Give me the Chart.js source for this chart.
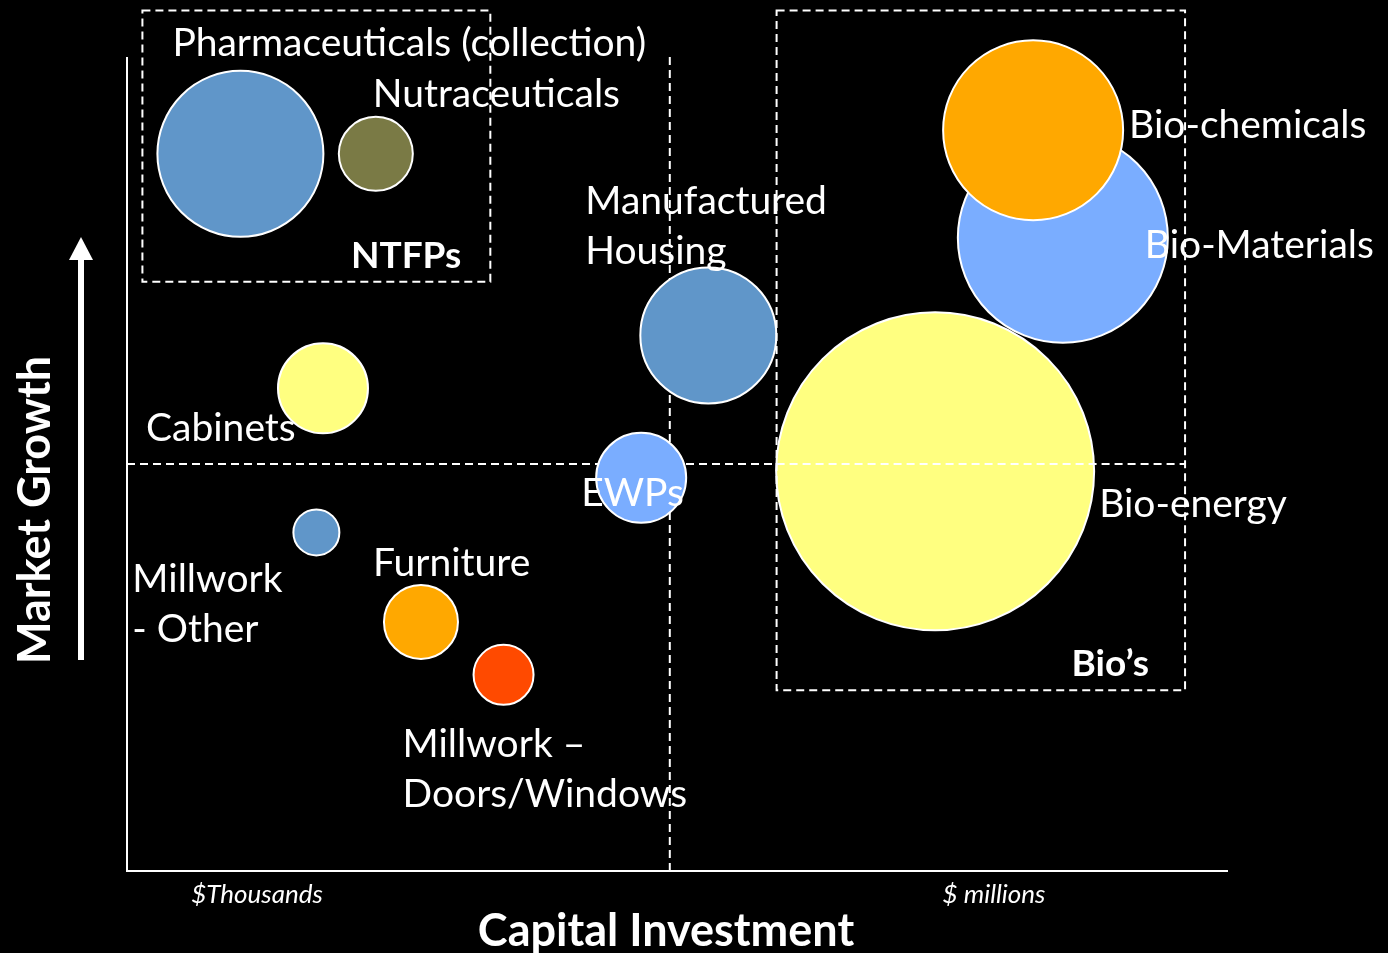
<!DOCTYPE html>
<html>
<head>
<meta charset="utf-8">
<script src="https://cdn.jsdelivr.net/npm/chart.js@4"></script>
<style>
  html, body { margin: 0; padding: 0; background: #000; }
  #wrap { width: 1388px; height: 953px; position: relative; }
</style>
</head>
<body>
<div id="wrap"><canvas id="chart"></canvas></div>
<script>
// bubble data (x: capital investment, y: market growth, both 0-10 units)
const categories = ["Bio-energy", "Bio-Materials", "Bio-chemicals", "Pharmaceuticals (collection)",
  "Nutraceuticals", "Manufactured Housing", "Cabinets", "EWPs", "Millwork - Other",
  "Furniture", "Millwork - Doors/Windows"];
const investment = [7.34, 8.50, 8.23, 1.03, 2.26, 5.28, 1.78, 4.67, 1.72, 2.67, 3.42];
const growth = [4.91, 7.78, 9.10, 8.81, 8.81, 6.58, 5.93, 4.83, 4.16, 3.06, 2.41];
const bubbleSize = [159, 105, 90, 83, 37, 68, 45, 45, 23, 37, 30];
const colors = ["#FFFF80", "#7AADFF", "#FFA800", "#6096C9", "#7A7A45", "#6096C9",
  "#FFFF80", "#7AADFF", "#6096C9", "#FFA800", "#FF4A00"];

// text shown next to each bubble
const labelLines = [["Bio-energy"], ["Bio-Materials"], ["Bio-chemicals"], ["Pharmaceuticals (collection)"],
  ["Nutraceuticals"], ["Manufactured", "Housing"], ["Cabinets"], ["EWPs"], ["Millwork", "- Other"],
  ["Furniture"], ["Millwork \u2013", "Doors/Windows"]];
// pixel offset of the label from the bubble centre
const labelOffset = [[164, 33], [82, 8], [96, -5], [-68, -110], [-3, -59], [-123, -134],
  [-177, 40], [-60, 16], [-184, 47], [-48, -58], [-101, 70]];

// divider lines and grouping boxes (data units)
const dividerX = 4.93;
const dividerY = 5.0;
const groupBoxes = [
  { name: "NTFPs", x0: 0.14, x1: 3.30, y0: 7.24, y1: 10.57 },
  { name: "Bio\u2019s", x0: 5.90, x1: 9.61, y0: 2.22, y1: 10.57 }
];

const FONT = "Lato, 'Open Sans', sans-serif";

const overlay = {
  id: "overlay",
  beforeDatasetsDraw(chart) {
    const { ctx, chartArea: a, scales: { x, y } } = chart;
    ctx.save();
    ctx.strokeStyle = "#fff";
    ctx.lineWidth = 2;
    ctx.setLineDash([8, 5]);
    const vx = x.getPixelForValue(dividerX);
    ctx.beginPath();
    ctx.moveTo(vx, a.top);
    ctx.lineTo(vx, a.bottom);
    const hy = y.getPixelForValue(dividerY);
    ctx.moveTo(a.left, hy);
    ctx.lineTo(x.getPixelForValue(groupBoxes[1].x0), hy);
    ctx.stroke();
    ctx.restore();
  },
  afterDatasetsDraw(chart) {
    const { ctx, chartArea: a, scales: { x, y } } = chart;
    ctx.save();
    ctx.fillStyle = "#fff";
    ctx.textBaseline = "middle";

    // bubble labels
    ctx.font = "39px " + FONT;
    ctx.textAlign = "left";
    categories.forEach((c, i) => {
      const px = x.getPixelForValue(investment[i]) + labelOffset[i][0];
      const py = y.getPixelForValue(growth[i]) + labelOffset[i][1];
      labelLines[i].forEach((t, k) => ctx.fillText(t, px, py + k * 50));
    });

    // dashed group boxes and the right half of the horizontal divider
    ctx.strokeStyle = "#fff";
    ctx.lineWidth = 2;
    ctx.setLineDash([8, 5]);
    groupBoxes.forEach(b => {
      const l = x.getPixelForValue(b.x0), r = x.getPixelForValue(b.x1);
      const t = y.getPixelForValue(b.y1), btm = y.getPixelForValue(b.y0);
      ctx.strokeRect(l, t, r - l, btm - t);
    });
    const hy = y.getPixelForValue(dividerY);
    ctx.beginPath();
    ctx.moveTo(x.getPixelForValue(groupBoxes[1].x0), hy);
    ctx.lineTo(x.getPixelForValue(groupBoxes[1].x1), hy);
    ctx.stroke();
    ctx.setLineDash([]);

    // group names
    ctx.font = "bold 37px " + FONT;
    ctx.textAlign = "right";
    groupBoxes.forEach((b, i) => {
      const r = x.getPixelForValue(b.x1) - (i === 0 ? 29 : 36);
      const btm = y.getPixelForValue(b.y0) - 26;
      ctx.fillText(b.name, r, btm);
    });

    // axes
    ctx.lineWidth = 2;
    ctx.beginPath();
    ctx.moveTo(a.left, a.top);
    ctx.lineTo(a.left, a.bottom);
    ctx.lineTo(a.right, a.bottom);
    ctx.stroke();

    // axis titles
    ctx.textAlign = "center";
    ctx.font = "italic 26px " + FONT;
    ctx.fillText("$Thousands", 257, a.bottom + 24);
    ctx.fillText("$ millions", 994, a.bottom + 24);
    ctx.font = "bold 45px " + FONT;
    ctx.fillText("Capital Investment", 666, a.bottom + 60);
    ctx.save();
    ctx.translate(35, 510);
    ctx.rotate(-Math.PI / 2);
    ctx.fillText("Market Growth", 0, 0);
    ctx.restore();

    // arrow
    ctx.fillRect(78, 258, 6, 402);
    ctx.beginPath();
    ctx.moveTo(81, 237);
    ctx.lineTo(69, 260);
    ctx.lineTo(93, 260);
    ctx.closePath();
    ctx.fill();
    ctx.restore();
  }
};

new Chart(document.getElementById("chart"), {
  type: "bubble",
  data: {
    datasets: [{
      data: categories.map((c, i) => ({ x: investment[i], y: growth[i], r: bubbleSize[i] })),
      backgroundColor: colors,
      borderColor: "#fff",
      borderWidth: 2,
      clip: false
    }]
  },
  options: {
    responsive: true,
    maintainAspectRatio: false,
    animation: false,
    layout: { autoPadding: false, padding: { left: 127, top: 57, right: 160, bottom: 82 } },
    scales: {
      x: { display: false, min: 0, max: 10 },
      y: { display: false, min: 0, max: 10 }
    },
    plugins: { legend: { display: false }, tooltip: { enabled: false } }
  },
  plugins: [overlay]
});
</script>
</body>
</html>
